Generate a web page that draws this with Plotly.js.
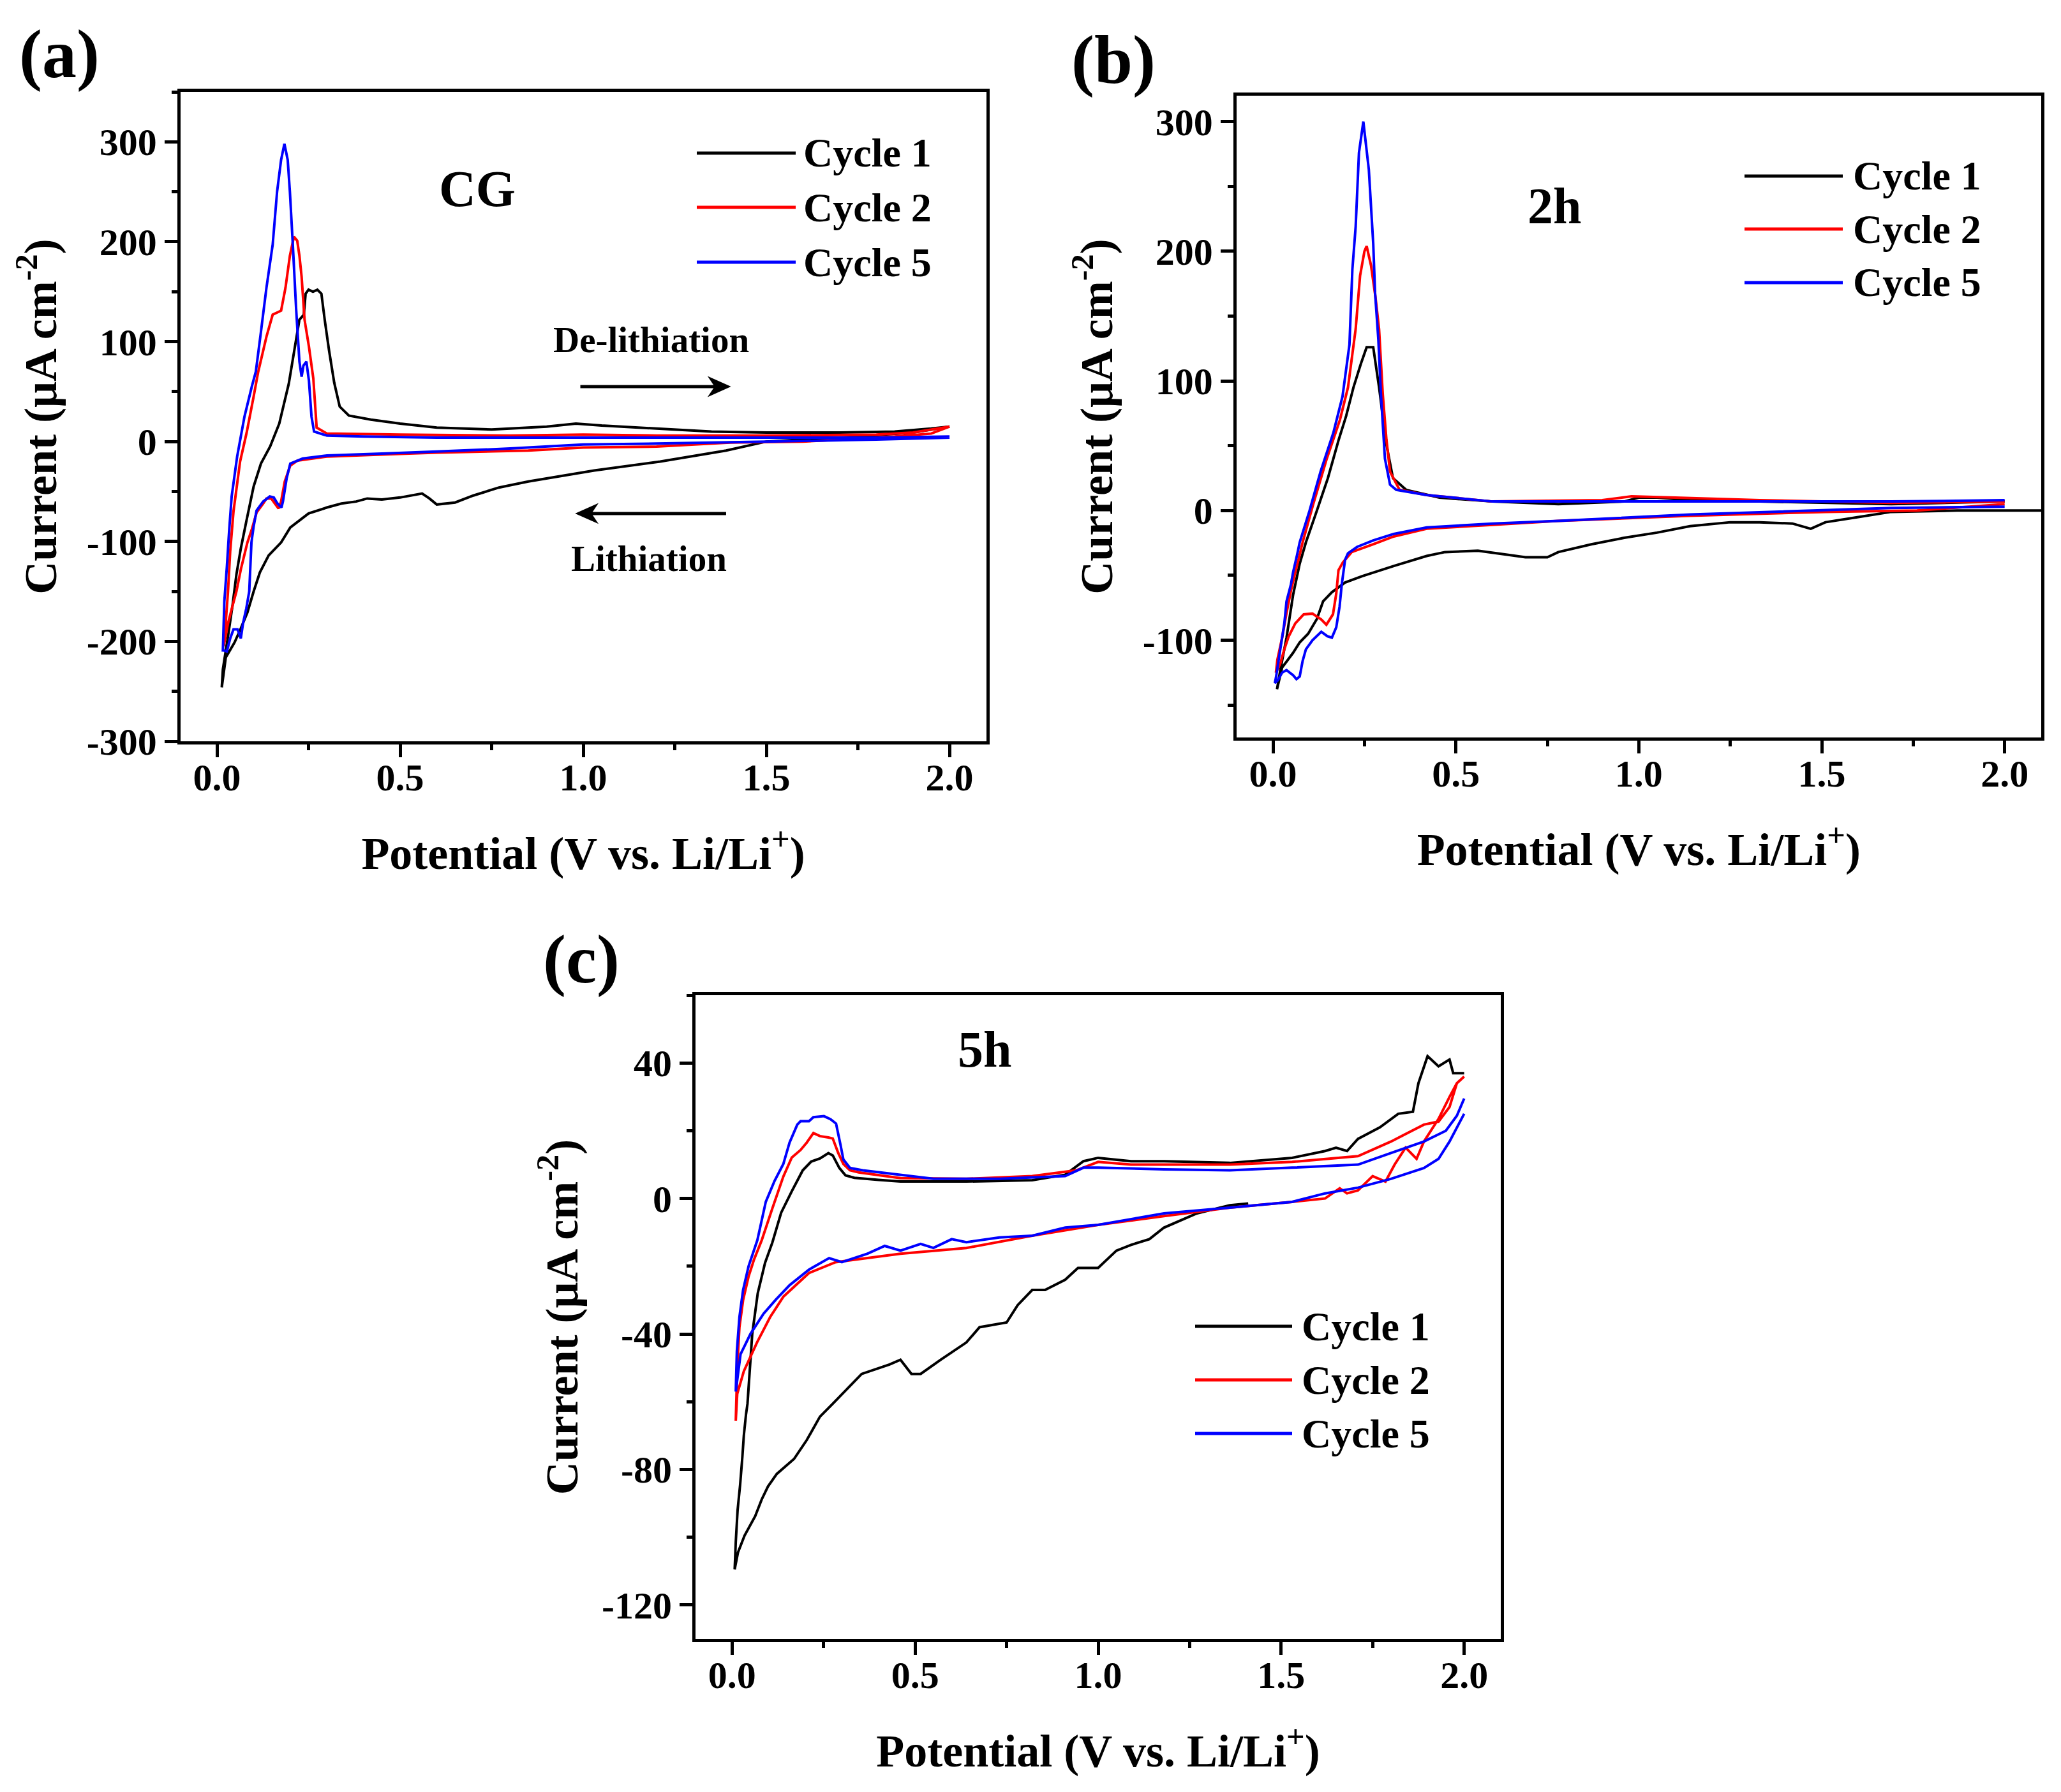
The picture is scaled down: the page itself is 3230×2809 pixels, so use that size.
<!DOCTYPE html>
<html><head><meta charset="utf-8">
<script src="https://cdn.plot.ly/plotly-3.0.1.min.js"></script>
<style>html,body{margin:0;padding:0;background:#fff}</style>
</head><body><div id="chart" style="width:3230px;height:2809px"></div>
<script>
// ---------- DATA (potential V vs Li/Li+, current µA cm^-2), each cycle = cathodic sweep then anodic sweep ----------
// Panel (a) CG
const aCycle1V = [2.0,1.9,1.75,1.6,1.5,1.39,1.21,1.03,0.85,0.77,0.70,0.65,0.6,0.58,0.56,0.5,0.45,0.41,0.38,0.34,0.3,0.25,0.2,0.175,0.141,0.117,0.1,0.083,0.065,0.048,0.024,0.013,
  0.016,0.03,0.042,0.053,0.065,0.08,0.1,0.12,0.145,0.17,0.196,0.225,0.237,0.242,0.25,0.262,0.274,0.285,0.294,0.306,0.32,0.335,0.36,0.42,0.5,0.6,0.75,0.9,0.98,1.05,1.2,1.35,1.5,1.7,1.85,1.95,2.0];
const aCycle1I = [15,9,5,2,0,-9,-20,-29,-40,-46,-54,-61,-63,-57,-52,-56,-58,-57,-60,-62,-66,-72,-86,-101,-114,-131,-150,-171,-187,-201,-216,-246,
  -228,-195,-165,-133,-107,-80,-45,-22,-5,18,58,122,127,148,152,150,152,148,122,91,59,35,26,22,18,14,12,15,18,16,13,10,9,9,10,13,15];
const aCycle2V = [2.0,1.95,1.85,1.6,1.4,1.2,1.0,0.85,0.6,0.45,0.3,0.22,0.2,0.185,0.175,0.168,0.158,0.148,0.135,0.126,0.108,0.095,0.083,0.065,0.053,0.042,0.03,0.024,0.018,
  0.024,0.03,0.036,0.045,0.063,0.081,0.1,0.112,0.135,0.152,0.175,0.187,0.199,0.21,0.219,0.225,0.231,0.239,0.251,0.263,0.272,0.3,0.5,0.8,1.0,1.2,1.5,1.8,1.9,2.0];
const aCycle2I = [15,8,5,0,-1,-5,-6,-9,-11,-13,-15,-19,-24,-40,-60,-67,-62,-57,-57,-62,-71,-88,-101,-128,-150,-165,-182,-194,-205,
  -180,-150,-110,-70,-20,9,45,69,105,127,131,154,186,205,201,186,165,122,95,63,14,8,7,6,7,6,6,7,9,15];
const aCycle5V = [2.0,1.8,1.5,1.2,1.0,0.8,0.6,0.45,0.3,0.234,0.2,0.19,0.18,0.176,0.165,0.155,0.144,0.126,0.108,0.1,0.094,0.088,0.08,0.071,0.065,0.056,0.045,0.036,0.027,0.018,
  0.016,0.02,0.027,0.033,0.04,0.055,0.075,0.095,0.106,0.12,0.135,0.152,0.164,0.175,0.184,0.193,0.199,0.207,0.216,0.225,0.231,0.236,0.244,0.251,0.258,0.265,0.3,0.4,0.6,0.9,1.2,1.5,1.8,2.0];
const aCycle5I = [4,2,0,-2,-3,-7,-10,-12,-14,-17,-22,-37,-60,-66,-62,-56,-55,-60,-69,-85,-101,-150,-167,-182,-197,-188,-188,-197,-210,-209,
  -209,-160,-125,-90,-55,-15,25,55,70,110,154,197,250,282,298,282,250,197,133,80,65,76,80,61,25,10,6,5,4,4,4,4,4,5];

// Panel (b) 2h
const bCycle1V = [2.1,1.87,1.69,1.6,1.51,1.47,1.42,1.33,1.25,1.14,1.05,0.96,0.87,0.78,0.75,0.69,0.64,0.56,0.47,0.42,0.332,0.244,0.197,0.161,0.137,0.12,0.096,0.073,0.055,0.025,0.011,
  0.02,0.037,0.055,0.073,0.09,0.12,0.15,0.18,0.2,0.22,0.24,0.256,0.274,0.29,0.31,0.328,0.364,0.455,0.6,0.78,0.96,1.0,1.05,1.14,1.33,1.69,2.0];
const bCycle1I = [0,0,-1,-5,-9,-14,-10,-9,-9,-12,-17,-21,-26,-32,-36,-36,-34,-31,-32,-35,-42.6,-50.6,-55.5,-63,-70,-83.6,-95,-101.7,-109.7,-121,-137.8,
  -123,-98,-65,-41,-24.5,0,25,55,73,95,113,126,126,95,51,25,16,10,7,5,7,10,10,8,7,5,7];
const bCycle2V = [2.0,1.76,1.51,1.14,0.78,0.6,0.42,0.33,0.274,0.215,0.191,0.179,0.173,0.164,0.146,0.132,0.108,0.084,0.061,0.043,0.031,0.02,0.008,
  0.012,0.025,0.037,0.049,0.061,0.073,0.081,0.11,0.147,0.183,0.205,0.226,0.238,0.25,0.256,0.268,0.28,0.29,0.3,0.31,0.32,0.346,0.42,0.6,0.9,0.98,1.1,1.33,1.69,2.0];
const bCycle2I = [5,0,-1,-4,-8,-11,-14,-20,-26,-32,-40,-46,-64,-80,-88,-84,-79.5,-80,-87,-97,-107,-118,-125,
  -115,-98,-79,-62,-47.5,-34,-24.5,5,40,70,95,140,181,200,204,189,165,140,90,55,30,16,12,7,8,11,10,8,6,7];
const bCycle5V = [2.0,1.69,1.14,0.78,0.6,0.42,0.33,0.274,0.23,0.205,0.197,0.188,0.182,0.173,0.161,0.149,0.132,0.108,0.09,0.081,0.073,0.064,0.055,0.037,0.025,0.013,0.005,
  0.008,0.02,0.031,0.037,0.049,0.055,0.066,0.073,0.1,0.13,0.165,0.19,0.209,0.217,0.226,0.235,0.247,0.262,0.274,0.279,0.288,0.295,0.306,0.32,0.337,0.42,0.6,0.96,1.33,1.69,2.0];
const bCycle5I = [3,2,-3,-8,-10,-13,-18,-23,-28,-33,-38,-57,-74,-90,-98,-97,-93.5,-100,-107,-116,-128,-130,-127,-123,-125,-131,-133,
  -129,-107,-87,-70,-57,-47.5,-34,-24.5,0,30,60,88,128,186,219,276,300,263,206,168,132,90,40,20,16,12,7,7,7,7,8];

// Panel (c) 5h
const cCycle1V = [1.41,1.36,1.27,1.18,1.14,1.09,1.05,1.0,0.945,0.91,0.855,0.82,0.78,0.75,0.676,0.64,0.57,0.515,0.49,0.46,0.43,0.354,0.275,0.24,0.204,0.169,0.122,0.098,0.081,0.063,0.034,0.016,0.007,
  0.01,0.015,0.022,0.028,0.032,0.038,0.042,0.055,0.07,0.09,0.11,0.134,0.163,0.193,0.216,0.24,0.263,0.275,0.293,0.31,0.334,0.4,0.46,0.64,0.82,0.91,0.96,1.0,1.09,1.18,1.36,1.53,1.62,1.65,1.68,1.71,1.77,1.82,1.86,1.875,1.9,1.93,1.96,1.97,2.0];
const cCycle1I = [-1.5,-2,-4.4,-8.6,-12,-13.7,-15.4,-20.5,-20.5,-24,-27,-27,-31.5,-36.6,-38,-42.5,-47.6,-51.8,-51.8,-47.6,-49,-51.8,-60.6,-64.4,-71.3,-76.9,-81.3,-85,-88.8,-93.8,-99.5,-104.5,-109.5,
  -101.4,-92,-84.4,-76.3,-70,-63.7,-60.6,-40,-28,-19,-13,-4.2,2.1,8.3,10.9,11.8,13.4,12.7,9,6.8,6.1,5.5,5,5,5.4,7,11,12,11,11,10.5,12,14,15,14,17.6,21,25,25.6,34,42,39,41,37,37];
const cCycle2V = [2.0,1.98,1.96,1.93,1.89,1.87,1.84,1.81,1.785,1.75,1.71,1.68,1.66,1.62,1.53,1.36,1.18,1.0,0.82,0.64,0.46,0.283,0.21,0.14,0.104,0.068,0.032,0.014,0.01,
  0.014,0.02,0.03,0.045,0.06,0.081,0.11,0.14,0.163,0.187,0.204,0.222,0.24,0.263,0.275,0.29,0.304,0.322,0.346,0.46,0.64,0.82,0.94,1.0,1.09,1.36,1.53,1.71,1.8,1.89,1.93,1.96,1.98,2.0];
const cCycle2I = [36,34,30,23.5,16.8,11.7,15,10,5,6.6,2.4,1.5,3,0,-1,-2.7,-5.2,-7.8,-11,-14.6,-16.3,-18.8,-22,-29,-35,-42.5,-51,-57.7,-65.6,
  -50,-38,-30,-23,-18,-12.3,-2.9,6.5,12.1,14.3,16.5,19.3,18.4,18,17.7,13.4,10.2,8.3,7.7,6,5.8,6.6,8.3,10.8,10,10,10.8,12.5,16.8,21.8,22.7,27,34,36];
const cCycle5V = [2.0,1.96,1.93,1.89,1.8,1.71,1.62,1.53,1.36,1.18,1.0,0.91,0.82,0.73,0.64,0.6,0.55,0.515,0.46,0.417,0.37,0.3,0.265,0.21,0.157,0.12,0.086,0.05,0.023,0.01,
  0.013,0.02,0.03,0.045,0.069,0.092,0.116,0.14,0.157,0.178,0.187,0.21,0.222,0.251,0.269,0.284,0.296,0.304,0.322,0.357,0.55,0.73,0.91,0.96,1.0,1.18,1.36,1.53,1.71,1.8,1.89,1.95,1.98,2.0];
const cCycle5I = [25,16.8,11.7,9,5.8,3.2,1.5,-1,-2.7,-4.4,-7.8,-8.6,-11,-11.5,-12.9,-12,-14.6,-13.4,-15.4,-14,-16.3,-18.8,-17.6,-21,-25.6,-29.8,-34,-40,-46,-57,
  -45,-35,-27,-20,-12.3,-1,5.2,10.2,16.5,21.8,22.8,22.8,24,24.3,23.4,22.1,15.9,11.5,9,8.3,5.8,5.8,6.6,9.1,9.1,8.6,8.3,9.1,10,13.4,16.8,20,24.4,29.5];

// Labels / ticks
const seriesNames = ['Cycle 1','Cycle 2','Cycle 5'];
const seriesColors = ['#000000','#ff0000','#0000ff'];
const xTickVals = [0,0.5,1,1.5,2];
const xTickText = ['0.0','0.5','1.0','1.5','2.0'];
const aYTickVals = [-300,-200,-100,0,100,200,300];
const aYTickText = ['-300','-200','-100','0','100','200','300'];
const bYTickVals = [-100,0,100,200,300];
const bYTickText = ['-100','0','100','200','300'];
const cYTickVals = [-120,-80,-40,0,40];
const cYTickText = ['-120','-80','-40','0','40'];
const panelLabels = ['(a)','(b)','(c)'];
const sampleLabels = ['CG','2h','5h'];
const xTitle = 'Potential (V vs. Li/Li<sup>+</sup>)';
const yTitle = 'Current (\u03bcA cm<sup>-2</sup>)';

// ---------- LAYOUT ----------
const W = 3230, H = 2809;
const FONT = '"Liberation Serif", "Times New Roman", Times, serif';
const fx = p => p / W;
const fy = p => 1 - p / H;
const boxes = {
  a: {l: 282.7, r: 1545.5, t: 144, b: 1162},
  b: {l: 1937.7, r: 3199, t: 150, b: 1156},
  c: {l: 1090, r: 2352, t: 1560, b: 2569}
};
function fnt(size){ return {family: FONT, size: size, color: '#000', weight: 'bold'}; }

const common = {
  showline: true, linewidth: 5, linecolor: '#000', mirror: true,
  ticks: 'outside', ticklen: 20, tickwidth: 5, tickcolor: '#000',
  showgrid: false, zeroline: false, tickfont: fnt(60), fixedrange: true
};
function xAxis(bx, anchor){
  return Object.assign({}, common, {
    domain: [fx(bx.l), fx(bx.r)], anchor: anchor, range: [-0.1, 2.1],
    tickmode: 'array', tickvals: xTickVals, ticktext: xTickText, ticklabelstandoff: -20,
    minor: {tickmode: 'linear', tick0: 0, dtick: 0.25, ticks: 'outside', ticklen: 9, tickwidth: 5, tickcolor: '#000'},
    title: {text: xTitle, font: fnt(72), standoff: 62}
  });
}
function yAxis(bx, anchor, range, tv, tt, minorStep, standoff){
  return Object.assign({}, common, {
    domain: [fy(bx.b), fy(bx.t)], anchor: anchor, range: range,
    tickmode: 'array', tickvals: tv, ticktext: tt,
    minor: {tickmode: 'linear', tick0: 0, dtick: minorStep, ticks: 'outside', ticklen: 9, tickwidth: 5, tickcolor: '#000'},
    title: {text: yTitle, font: fnt(72), standoff: standoff}
  });
}

const panels = [
  {xa: 'x', ya: 'y', V: [aCycle1V, aCycle2V, aCycle5V], I: [aCycle1I, aCycle2I, aCycle5I]},
  {xa: 'x2', ya: 'y2', V: [bCycle1V, bCycle2V, bCycle5V], I: [bCycle1I, bCycle2I, bCycle5I]},
  {xa: 'x3', ya: 'y3', V: [cCycle1V, cCycle2V, cCycle5V], I: [cCycle1I, cCycle2I, cCycle5I]}
];
const traces = [];
panels.forEach(p => {
  for (let k = 0; k < 3; k++) {
    traces.push({
      type: 'scatter', mode: 'lines', x: p.V[k], y: p.I[k], xaxis: p.xa, yaxis: p.ya,
      name: seriesNames[k], showlegend: false,
      line: {color: seriesColors[k], width: 4, simplify: false}
    });
  }
});

// legends drawn as line samples + text (paper coords from pixel positions)
const legendPos = [
  {x0: 1092, x1: 1247, tx: 1257, ys: [240, 325, 411]},
  {x0: 2734, x1: 2888, tx: 2902, ys: [276, 359, 443]},
  {x0: 1873, x1: 2025, tx: 2038, ys: [2079, 2163, 2247]}
];
const shapes = [];
const annotations = [];
legendPos.forEach(L => {
  for (let k = 0; k < 3; k++) {
    shapes.push({type: 'line', xref: 'paper', yref: 'paper', x0: fx(L.x0), x1: fx(L.x1), y0: fy(L.ys[k]), y1: fy(L.ys[k]),
      line: {color: seriesColors[k], width: 5}});
    annotations.push({xref: 'paper', yref: 'paper', x: fx(L.tx), y: fy(L.ys[k]), xanchor: 'left', yanchor: 'middle',
      text: seriesNames[k], showarrow: false, font: fnt(64)});
  }
});
// panel letters
[[93, 85], [1745, 94], [911, 1504]].forEach((c, i) => {
  annotations.push({xref: 'paper', yref: 'paper', x: fx(c[0]), y: fy(c[1]), xanchor: 'center', yanchor: 'middle',
    text: panelLabels[i], showarrow: false, font: fnt(108)});
});
// sample labels
annotations.push({xref: 'x', yref: 'y', x: 0.71, y: 253, text: sampleLabels[0], showarrow: false, font: fnt(80)});
annotations.push({xref: 'x2', yref: 'y2', x: 0.77, y: 235, text: sampleLabels[1], showarrow: false, font: fnt(80)});
annotations.push({xref: 'x3', yref: 'y3', x: 0.69, y: 44, text: sampleLabels[2], showarrow: false, font: fnt(80)});
// de-lithiation / lithiation texts (panel a)
annotations.push({xref: 'x', yref: 'y', x: 1.185, y: 102, text: 'De-lithiation', showarrow: false, font: fnt(57)});
annotations.push({xref: 'x', yref: 'y', x: 1.18, y: -117, text: 'Lithiation', showarrow: false, font: fnt(57)});
// sweep-direction arrows drawn as shapes (shaft + filled head)
function arrow(xTail, xHead, yv){
  const dir = xHead > xTail ? 1 : -1;
  const hl = 0.055, hw = 9;
  shapes.push({type: 'line', xref: 'x', yref: 'y', x0: xTail, x1: xHead - dir * hl * 0.6, y0: yv, y1: yv,
    line: {color: '#000', width: 5}});
  const b = xHead - dir * hl;
  shapes.push({type: 'path', xref: 'x', yref: 'y',
    path: `M${xHead},${yv} L${b},${yv + hw} L${xHead - dir * hl * 0.7},${yv} L${b},${yv - hw} Z`,
    fillcolor: '#000', line: {color: '#000', width: 2}});
}
arrow(0.992, 1.399, 55);
arrow(1.39, 0.982, -72);

const layout = {
  width: W, height: H, margin: {l: 0, r: 0, t: 0, b: 0},
  paper_bgcolor: '#fff', plot_bgcolor: 'rgba(0,0,0,0)', showlegend: false,
  xaxis: xAxis(boxes.a, 'y'),
  yaxis: yAxis(boxes.a, 'x', [-300, 350], aYTickVals, aYTickText, 50, 25),
  xaxis2: xAxis(boxes.b, 'y2'),
  yaxis2: yAxis(boxes.b, 'x2', [-175, 320], bYTickVals, bYTickText, 50, 25),
  xaxis3: xAxis(boxes.c, 'y3'),
  yaxis3: yAxis(boxes.c, 'x3', [-130, 60], cYTickVals, cYTickText, 20, 15),
  shapes: shapes, annotations: annotations
};
Plotly.newPlot('chart', traces, layout, {staticPlot: true, displayModeBar: false});
</script>
</body></html>
